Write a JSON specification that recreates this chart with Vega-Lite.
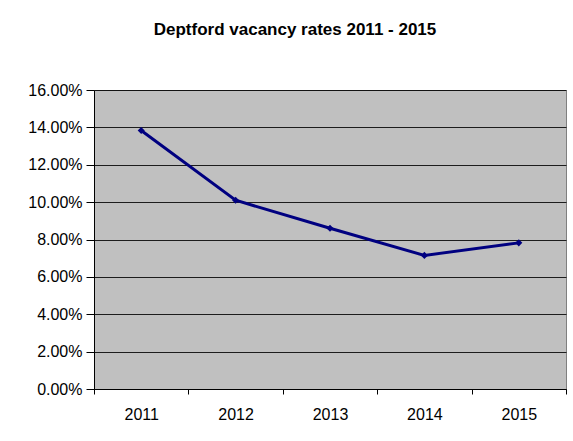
{
  "$schema": "https://vega.github.io/schema/vega-lite/v6.json",
  "width": 472,
  "height": 299,
  "autosize": {"type": "none"},
  "padding": {"left": 94, "top": 90, "right": 7, "bottom": 52},
  "background": "white",
  "title": {
    "text": "Deptford vacancy rates 2011 - 2015",
    "font": "Liberation Sans",
    "fontSize": 17,
    "fontWeight": "bold",
    "color": "black",
    "anchor": "middle",
    "dx": -35,
    "offset": 43
  },
  "data": {
    "values": [
      {"year": "2011", "rate": 0.1383},
      {"year": "2012", "rate": 0.101},
      {"year": "2013", "rate": 0.086},
      {"year": "2014", "rate": 0.0715},
      {"year": "2015", "rate": 0.0782}
    ]
  },
  "encoding": {
    "x": {"field": "year", "type": "ordinal", "bandPosition": 0.5,
          "scale": {"type": "band", "paddingInner": 0, "paddingOuter": 0},
          "axis": {"title": null, "labelAngle": 0, "tickBand": "extent", "tickSize": 5, "tickColor": "black", "domainColor": "black", "domainWidth": 1, "labelPadding": 12, "grid": false, "labelOverlap": false}},
    "y": {"field": "rate", "type": "quantitative",
          "scale": {"domain": [0, 0.16], "nice": false},
          "axis": {"title": null, "format": ".2%", "values": [0, 0.02, 0.04, 0.06, 0.08, 0.1, 0.12, 0.14, 0.16], "tickCount": 9, "tickSize": 8, "tickColor": "black", "domainColor": "black", "labelPadding": 4, "grid": true, "gridColor": "#000000", "gridWidth": 1, "gridOpacity": 0.85, "labelOverlap": false, "labelBound": false, "labelFlush": false}}
  },
  "layer": [
    {
      "mark": {"type": "line", "color": "#000080", "strokeWidth": 3, "clip": false}
    },
    {
      "mark": {"type": "point", "shape": "diamond", "filled": true, "color": "#000080", "size": 50, "opacity": 1}
    }
  ],
  "config": {
    "view": {"fill": "#C0C0C0", "stroke": "#808080", "strokeWidth": 1},
    "axis": {"labelFont": "Liberation Sans", "labelFontSize": 16, "labelColor": "black"}
  }
}
